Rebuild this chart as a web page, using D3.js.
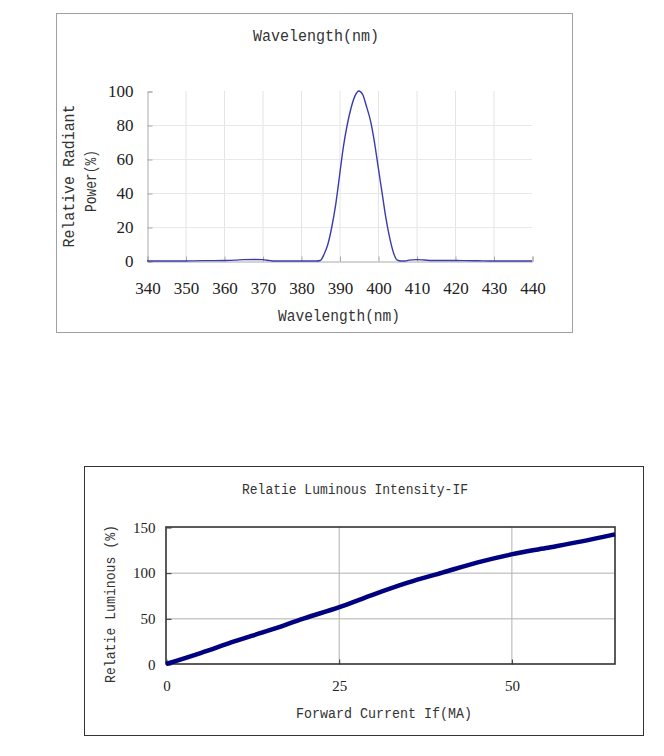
<!DOCTYPE html>
<html><head><meta charset="utf-8">
<script src="https://cdn.jsdelivr.net/npm/d3@7"></script>
<style>body{margin:0;background:#fff}svg{display:block}
.num{font-family:'Liberation Serif','Times New Roman',serif !important;}
.lbl{font-family:'Liberation Mono','Courier New',monospace !important;}
</style>
</head><body>
<script>
// Spectrum chart data
const wavelengths = [340,345,350,352,355,360,363,365,368,370,372,373,380,384,385,386,387,388,389,390,391,392,393,394,395,396,397,398,399,400,401,402,403,404,405,406,407,408,410,412,414,418,422,426,429,432,440];
const radiantPower = [0,0,0,0.1,0.2,0.3,0.5,0.8,0.9,0.8,0.2,0,0,0,0.3,4,10,20,33,50,67,80,90,97,100,98,91,83,71,56,41,26,14,5,0.5,0,0,0.5,0.8,0.6,0.3,0.3,0.25,0.15,0,0,0];
const wlTicks = [340,350,360,370,380,390,400,410,420,430,440];
const powerTicks = [0,20,40,60,80,100];

// Luminous intensity chart data
const forwardCurrent = [0,5,10,15,20,25,30,35,40,45,50,55,60,65];
const relLuminous = [0,12,25,37,50,62,76,89,100,111,120,127,134,142];
const currentTicks = [0,25,50];
const luminousTicks = [0,50,100,150];

const svg = d3.select("body").append("svg").attr("width",664).attr("height",756);
const txtColor = "#333";

// ---------- Top chart ----------
const g1 = svg.append("g");
g1.append("rect").attr("x",56.5).attr("y",13.5).attr("width",516).attr("height",319)
  .attr("fill","none").attr("stroke","#a0a0a0");
const x1 = d3.scaleLinear().domain([340,440]).range([147,532]);
const y1 = d3.scaleLinear().domain([0,100]).range([261,91]);

g1.append("g").selectAll("line").data(wlTicks.filter(d=>d>340 && d<440)).join("line")
  .attr("x1",d=>x1(d)+0.5).attr("x2",d=>x1(d)+0.5).attr("y1",y1(100)).attr("y2",y1(0))
  .attr("stroke","#e4e4e4");
g1.append("g").selectAll("line").data(powerTicks.filter(d=>d>0 && d<100)).join("line")
  .attr("x1",x1(340)).attr("x2",x1(440)).attr("y1",d=>y1(d)+0.5).attr("y2",d=>y1(d)+0.5)
  .attr("stroke","#e8e8e8");

const ax1 = d3.axisBottom(x1).tickValues(wlTicks).tickSize(-5).tickFormat(d3.format("d"));
const gx1 = g1.append("g").attr("transform",`translate(0.5,${y1(0)+0.5})`).call(ax1);
gx1.attr("font-family",null).attr("font-size",null);
gx1.select(".domain").attr("stroke","#aaaaaa");
gx1.selectAll(".tick line").attr("stroke","#aaaaaa");
gx1.selectAll(".tick text").attr("class","num").style("font-size","17px").attr("fill","#222").attr("dy",0).attr("y",32);

const ay1 = d3.axisLeft(y1).tickValues(powerTicks).tickSize(-5).tickFormat(d3.format("d"));
const gy1 = g1.append("g").attr("transform",`translate(${x1(340)+0.5},0.5)`).call(ay1);
gy1.attr("font-family",null).attr("font-size",null);
gy1.select(".domain").attr("stroke","#aaaaaa");
gy1.selectAll(".tick line").attr("stroke","#aaaaaa");
gy1.selectAll(".tick text").attr("class","num").style("font-size","17px").attr("fill","#222").attr("x",-14);

const line1 = d3.line().x((d,i)=>x1(wavelengths[i])).y(d=>y1(d)).curve(d3.curveMonotoneX);
g1.append("path").attr("d",line1(radiantPower)).attr("fill","none")
  .attr("stroke","#3b3bb0").attr("stroke-width",1.4);

function label(g, text, x, y, size, len, rotate){
  const t = g.append("text").attr("class","lbl").attr("text-anchor","middle")
    .style("font-size",size+"px").attr("fill",txtColor)
    .attr("textLength",len).attr("lengthAdjust","spacingAndGlyphs").text(text);
  if(rotate){ t.attr("transform",`translate(${x},${y}) rotate(-90)`).attr("dy","0.35em"); }
  else { t.attr("x",x).attr("y",y); }
  return t;
}
label(g1,"Wavelength(nm)",316,41,16,126,false);
label(g1,"Wavelength(nm)",339,321,16,122,false);
label(g1,"Relative Radiant",68,176,16,143,true);
label(g1,"Power(%)",90,181,16,62,true);

// ---------- Bottom chart ----------
const g2 = svg.append("g");
g2.append("rect").attr("x",84.5).attr("y",466.5).attr("width",559).attr("height",269)
  .attr("fill","none").attr("stroke","#333");
const x2 = d3.scaleLinear().domain([0,65]).range([166,615]);
const y2 = d3.scaleLinear().domain([0,150]).range([664,527]);

g2.append("g").selectAll("line").data(currentTicks.filter(d=>d>0)).join("line")
  .attr("x1",d=>x2(d)+0.5).attr("x2",d=>x2(d)+0.5).attr("y1",y2(150)).attr("y2",y2(0))
  .attr("stroke","#b0b0b0");
g2.append("g").selectAll("line").data(luminousTicks.filter(d=>d>0 && d<150)).join("line")
  .attr("x1",x2(0)).attr("x2",x2(65)).attr("y1",d=>y2(d)+0.5).attr("y2",d=>y2(d)+0.5)
  .attr("stroke","#b0b0b0");

const ax2 = d3.axisBottom(x2).tickValues(currentTicks).tickSize(-5).tickFormat(d3.format("d"));
const gx2 = g2.append("g").attr("transform",`translate(0.5,${y2(0)+0.5})`).call(ax2);
gx2.attr("font-family",null).attr("font-size",null);
gx2.select(".domain").remove();
gx2.selectAll(".tick line").attr("stroke","#333");
gx2.selectAll(".tick text").attr("class","num").style("font-size","15px").attr("fill","#222").attr("dy",0).attr("y",26);

const ay2 = d3.axisLeft(y2).tickValues(luminousTicks).tickSize(-5).tickFormat(d3.format("d"));
const gy2 = g2.append("g").attr("transform",`translate(${x2(0)+0.5},0.5)`).call(ay2);
gy2.attr("font-family",null).attr("font-size",null);
gy2.select(".domain").remove();
gy2.selectAll(".tick line").attr("stroke","#333");
gy2.selectAll(".tick text").attr("class","num").style("font-size","15px").attr("fill","#222").attr("x",-11);

g2.append("rect").attr("x",x2(0)).attr("y",y2(150)).attr("width",x2(65)-x2(0)).attr("height",y2(0)-y2(150))
  .attr("fill","none").attr("stroke","#333").attr("stroke-width",1.6);

const line2 = d3.line().x((d,i)=>x2(forwardCurrent[i])).y(d=>y2(d)).curve(d3.curveMonotoneX);
g2.append("path").attr("d",line2(relLuminous)).attr("fill","none")
  .attr("stroke","#000080").attr("stroke-width",4.5);

label(g2,"Relatie Luminous Intensity-IF",355,494,14,226,false);
label(g2,"Forward Current If(MA)",384,718,14,176,false);
label(g2,"Relatie Luminous (%)",110,604,14,158,true);
</script>
</body></html>
